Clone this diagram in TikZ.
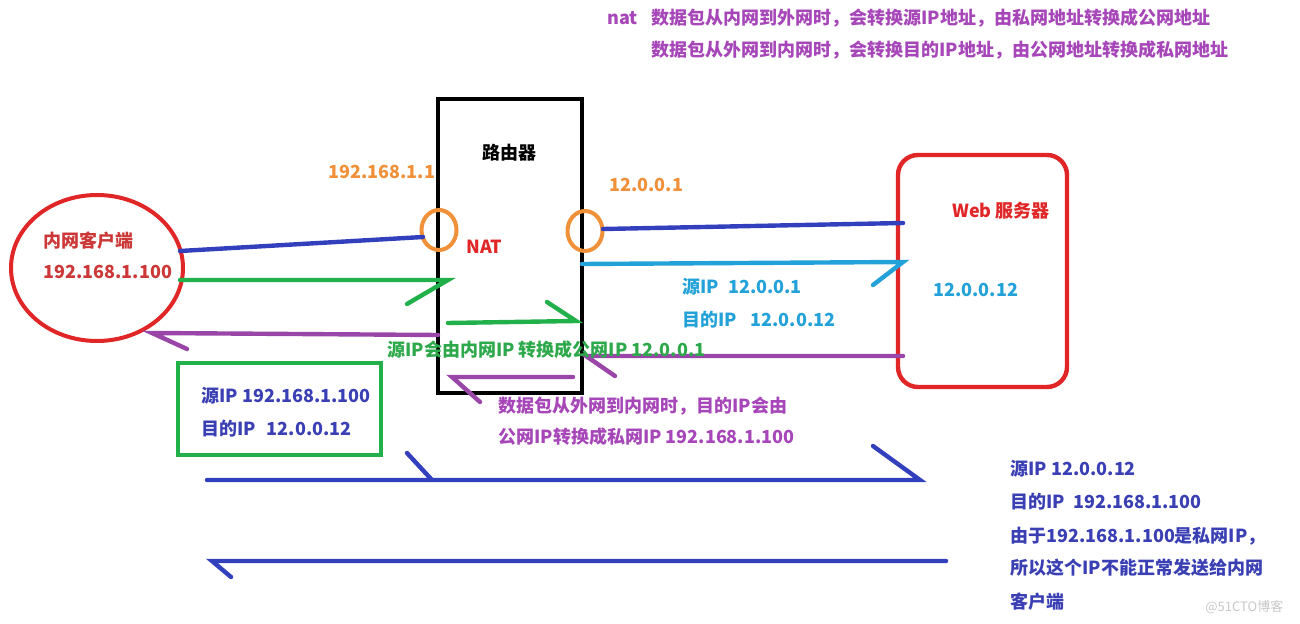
\documentclass[tikz,border=0pt]{standalone}
\usepackage{fontspec}
\setmainfont{Noto Sans CJK SC}
\usetikzlibrary{shapes.geometric}
\definecolor{cred}{HTML}{E02626}
\definecolor{tred}{HTML}{CC3838}
\definecolor{corange}{HTML}{F0913A}
\definecolor{cblue}{HTML}{3340BE}
\definecolor{tblue}{HTML}{3A40B4}
\definecolor{cgreen}{HTML}{22B04B}
\definecolor{tgreen}{HTML}{2DA84A}
\definecolor{ccyan}{HTML}{22A2D8}
\definecolor{cpurple}{HTML}{9A46A8}
\definecolor{tpurple}{HTML}{A646B8}
\definecolor{wmark}{HTML}{C8C8C8}
\begin{document}
\begin{tikzpicture}[x=0.5pt,y=-0.5pt,
  txt/.style={font=\fontsize{9.0}{11}\selectfont\bfseries, inner sep=0pt, anchor=west},
  wire/.style={line width=2.2pt, line cap=round},
  port/.style={ellipse, draw=corange, line width=2pt, minimum width=17.5pt, minimum height=20pt, inner sep=0pt}]
\useasboundingbox (0,0) rectangle (1300,624);
\fill[white] (0,0) rectangle (1300,624);

% top explanation
\node[txt, text=tpurple] (natlabel) at (607,18) {nat};
\node[txt, text=tpurple] (top1) at (651,18) {数据包从内网到外网时，会转换源IP地址，由私网地址转换成公网地址};
\node[txt, text=tpurple] (top2) at (651,50) {数据包从外网到内网时，会转换目的IP地址，由公网地址转换成私网地址};

% client
\node[ellipse, draw=cred, line width=2pt, minimum width=86pt, minimum height=73pt, inner sep=0pt] (client) at (97,268) {};
\node[txt, text=tred] (clientname) at (43,241) {内网客户端};
\node[txt, text=tred] (clientip) at (43,272) {192.168.1.100};

% router
\node[draw=black, line width=2.2pt, minimum width=72pt, minimum height=147pt, inner sep=0pt] (router) at (510,246) {};
\node[txt, text=black, anchor=center] (routername) at (509,153) {路由器};
\node[txt, text=cred] (nat) at (466,247) {NAT};
\node[port] (p1) at (439,230) {};
\node[port] (p2) at (585,231) {};
\node[txt, text=corange] (ip1) at (328,172) {192.168.1.1};
\node[txt, text=corange] (ip2) at (609,185) {12.0.0.1};

% server
\node[draw=cred, rounded corners=10pt, line width=2.2pt, minimum width=84.5pt, minimum height=116pt, inner sep=0pt] (server) at (982.5,271) {};
\node[txt, text=cred] (servername) at (952,211) {Web 服务器};
\node[txt, text=ccyan] (serverip) at (933,290) {12.0.0.12};

% coordinates
\coordinate (b1s) at (180,251); \coordinate (b1e) at (423,237);
\coordinate (g1s) at (180,280); \coordinate (g1e) at (448,280); \coordinate (g1t) at (407,304);
\coordinate (g2s) at (448,323); \coordinate (g2e) at (576,321); \coordinate (g2t) at (547,302);
\coordinate (pl1s) at (438,335); \coordinate (pl1e) at (152,333); \coordinate (pl1t) at (187,349);
\coordinate (b2s) at (603,229); \coordinate (b2e) at (903,223);
\coordinate (c1s) at (582,264); \coordinate (c1e) at (903,262); \coordinate (c1t) at (873,285);
\coordinate (pr1s) at (903,356); \coordinate (pr1e) at (586,356); \coordinate (pr1t) at (615,376);
\coordinate (pi1s) at (573,377); \coordinate (pi1e) at (452,377); \coordinate (pi1t) at (480,402);
\coordinate (bl1s) at (207,480); \coordinate (bl1e) at (920,480);
\coordinate (bl1a) at (407,453); \coordinate (bl1b) at (432,480); \coordinate (bl1t) at (873,446);
\coordinate (bl2s) at (946,561); \coordinate (bl2e) at (212,561); \coordinate (bl2t) at (231,577);

% connectors
\draw[wire, cblue] (b1s) -- (b1e);
\draw[wire, cgreen] (g1s) -- (g1e) -- (g1t);
\draw[wire, cgreen] (g2s) -- (g2e) -- (g2t);
\draw[wire, cpurple] (pl1s) -- (pl1e) -- (pl1t);
\draw[wire, cblue] (b2s) -- (b2e);
\draw[wire, ccyan] (c1s) -- (c1e) -- (c1t);
\draw[wire, cpurple] (pr1s) -- (pr1e) -- (pr1t);
\draw[wire, cpurple] (pi1s) -- (pi1e) -- (pi1t);
\draw[wire, cblue] (bl1s) -- (bl1e) -- (bl1t);
\draw[wire, cblue] (bl1a) -- (bl1b);
\draw[wire, cblue] (bl2s) -- (bl2e) -- (bl2t);

% labels
\node[txt, text=tgreen] (natnote) at (387,350) {源IP会由内网IP 转换成公网IP 12.0.0.1};
\node[draw=cgreen, line width=2.2pt, minimum width=101.5pt, minimum height=46pt, inner sep=0pt] (pktbox) at (279.5,409) {};
\node[txt, text=tblue] (pkt1) at (201,396) {源IP 192.168.1.100};
\node[txt, text=tblue] (pkt2) at (201,429) {目的IP\hspace{0.6em}12.0.0.12};
\node[txt, text=ccyan] (pub1) at (682,287) {源IP\hspace{0.5em}12.0.0.1};
\node[txt, text=ccyan] (pub2) at (682,320) {目的IP\hspace{0.75em}12.0.0.12};
\node[txt, text=tpurple] (back1) at (498,406) {数据包从外网到内网时，目的IP会由};
\node[txt, text=tpurple] (back2) at (498,437) {公网IP转换成私网IP 192.168.1.100};
\node[txt, text=tblue] (r1) at (1010,469) {源IP 12.0.0.12};
\node[txt, text=tblue] (r2) at (1010,502) {目的IP\hspace{0.45em}192.168.1.100};
\node[txt, text=tblue] (r3) at (1010,536) {由于192.168.1.100是私网IP，};
\node[txt, text=tblue] (r4) at (1010,568) {所以这个IP不能正常发送给内网};
\node[txt, text=tblue] (r5) at (1010,602) {客户端};
\node[inner sep=0pt, anchor=west, font=\fontsize{6.5}{8}\selectfont, text=wmark] (wm) at (1205,607) {@51CTO博客};
\end{tikzpicture}
\end{document}
